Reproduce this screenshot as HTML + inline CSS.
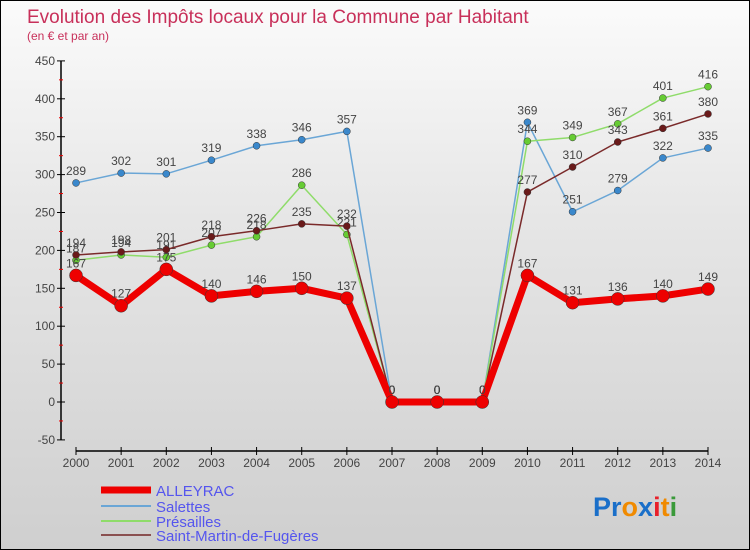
<!DOCTYPE html>
<html><head><meta charset="utf-8"><style>
body{margin:0}
#c{width:750px;height:550px;position:relative;background:linear-gradient(#fbfbfb,#e6e6e6 40%,#cfcfcf);box-sizing:border-box;border:1px solid #000;font-family:"Liberation Sans",sans-serif;overflow:hidden}
svg{position:absolute;left:0;top:0}
</style></head><body>
<div id="c">
<svg id="s" width="750" height="550">
<text x="26" y="22" font-size="19" fill="#c8305a">Evolution des Impôts locaux pour la Commune par Habitant</text>
<text x="26" y="39" font-size="12" fill="#c8305a">(en € et par an)</text>
<g id="g"></g>
<text x="592" y="515" font-size="27" font-weight="bold"><tspan fill="#1a6fc9">Pr</tspan><tspan fill="#f08a00">o</tspan><tspan fill="#1a6fc9">x</tspan><tspan fill="#e8202a">i</tspan><tspan fill="#f08a00">t</tspan><tspan fill="#3a9a3a">i</tspan></text>
</svg>
</div>
<script>
const years=["2000","2001","2002","2003","2004","2005","2006","2007","2008","2009","2010","2011","2012","2013","2014"];
const yTicks=[-50,0,50,100,150,200,250,300,350,400,450];
const alleyrac=[167,127,175,140,146,150,137,0,0,0,167,131,136,140,149];
const salettes=[289,302,301,319,338,346,357,0,0,0,369,251,279,322,335];
const presailles=[187,194,191,207,218,286,221,0,0,0,344,349,367,401,416];
const saintMartin=[194,198,201,218,226,235,232,0,0,0,277,310,343,361,380];
const NS="http://www.w3.org/2000/svg";
const g=document.getElementById('g');
const X=i=>75+i*(632/14);
const Y=v=>401-v*0.758;
function mk(t,a,p){const e=document.createElementNS(NS,t);for(const k in a)e.setAttribute(k,a[k]);(p||g).appendChild(e);return e;}
// axes
let ya=mk('line',{x1:60,y1:Y(450),x2:60,y2:Y(-50),stroke:'#000','stroke-width':1.5});


yTicks.forEach(v=>{
 mk('line',{x1:56,y1:Y(v),x2:64,y2:Y(v),stroke:'#000'});
 if(v<450) mk('line',{x1:58,y1:Y(v+25),x2:62,y2:Y(v+25),stroke:'#e00'});
 let t=mk('text',{x:54,y:Y(v)+4,'font-size':12,fill:'#444','text-anchor':'end'});t.textContent=v;
 
 
});
let xa=mk('line',{x1:X(0),y1:450,x2:X(14),y2:450,stroke:'#000','stroke-width':1.5});


years.forEach((y,i)=>{
 mk('line',{x1:X(i),y1:446,x2:X(i),y2:454,stroke:'#000'});
 let t=mk('text',{x:X(i),y:466,'font-size':12,fill:'#444','text-anchor':'middle'});t.textContent=y;
 
 
});
const series=[
 {n:'salettes',d:salettes,c:'#6aa6d6',p:'#3a88cc',w:1.5,r:3.5},
 {n:'presailles',d:presailles,c:'#8fdc6a',p:'#66cc33',w:1.5,r:3.5},
 {n:'saint-martin',d:saintMartin,c:'#7a2a2a',p:'#6a1a1a',w:1.5,r:3.5},
 {n:'alleyrac',d:alleyrac,c:'#ee0000',p:'#ee0000',w:7,r:6.5}
];
series.forEach(s=>{
 let pts=s.d.map((v,i)=>X(i)+','+Y(v)).join(' ');
 let l=mk('polyline',{points:pts,fill:'none',stroke:s.c,'stroke-width':s.w,'stroke-linejoin':'round'});
 
 
 s.d.forEach((v,i)=>{
  let c=mk('circle',{cx:X(i),cy:Y(v),r:s.r,fill:s.p,stroke:'#333','stroke-width':0.5});
  
  
  let t=mk('text',{x:X(i),y:Y(v)-8,'font-size':12,fill:'#444','text-anchor':'middle'});t.textContent=v;
  
  
 });
});
const leg=[['ALLEYRAC','#ee0000',7,494],['Salettes','#6aa6d6',2,510],['Présailles','#8fdc6a',2,525],['Saint-Martin-de-Fugères','#8a5050',2,539]];
leg.forEach(l=>{
 mk('line',{x1:100,y1:l[3]-5,x2:150,y2:l[3]-5,stroke:l[1],'stroke-width':l[2]});
 let t=mk('text',{x:155,y:l[3]+1,'font-size':15,fill:'#5555ee'});t.textContent=l[0];
 
 
});
</script>
</body></html>
